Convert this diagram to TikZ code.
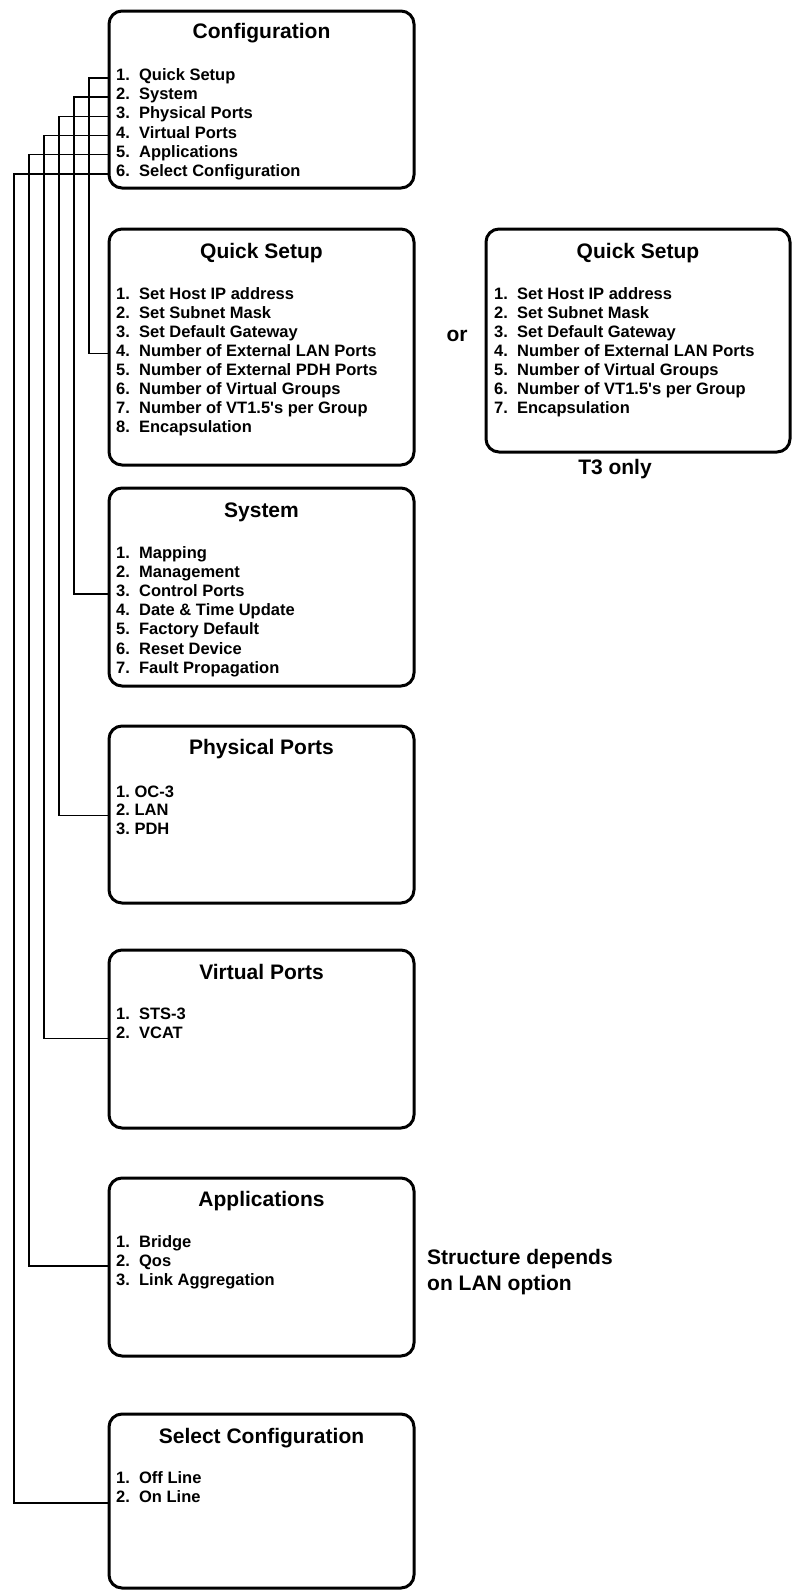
\documentclass[tikz,border=0pt]{standalone}
\usepackage{fontspec}
\setmainfont{Liberation Sans}
\newcommand{\headfont}{\fontsize{21}{26}\selectfont\bfseries}
\newcommand{\listfont}{\fontsize{16.5}{19}\selectfont\bfseries}

\begin{document}
\begin{tikzpicture}[x=1pt,y=-1pt,
    menu/.style={draw, line width=3pt, rounded corners=13pt, anchor=north west,
                 inner sep=0pt, outer sep=0pt, minimum width=305pt},
    head/.style={anchor=base, font=\headfont, inner sep=0pt},
    entry/.style={anchor=base west, font=\listfont, inner sep=0pt},
    wire/.style={line width=1.5pt}]
\useasboundingbox (0,0) rectangle (793,1591);

% top level menu
\node[menu, minimum height=177pt] (cfg) at (109,11) {};
\node[head] at (cfg.north |- 0,38) {Configuration};
\foreach \txt [count=\i] in {{1.\ \ Quick Setup}, {2.\ \ System}, {3.\ \ Physical Ports},
                             {4.\ \ Virtual Ports}, {5.\ \ Applications}, {6.\ \ Select Configuration}}
  \node[entry] (cfg-\i) at (116,{80.5+19.2*(\i-1)}) {\txt};

% quick setup
\node[menu, minimum height=236pt] (qs) at (109,229) {};
\node[head] at (qs.north |- 0,258) {Quick Setup};
\foreach \txt [count=\i] in {{1.\ \ Set Host IP address}, {2.\ \ Set Subnet Mask},
                             {3.\ \ Set Default Gateway}, {4.\ \ Number of External LAN Ports},
                             {5.\ \ Number of External PDH Ports}, {6.\ \ Number of Virtual Groups},
                             {7.\ \ Number of VT1.5\textquotesingle s per Group}, {8.\ \ Encapsulation}}
  \node[entry] (qs-\i) at (116,{299+19.1*(\i-1)}) {\txt};

% quick setup, T3 variant
\node[head] (or) at (457,341) {or};
\node[menu, minimum width=304pt, minimum height=223pt] (qst) at (486,229) {};
\node[head] at (qst.north |- 0,258) {Quick Setup};
\foreach \txt [count=\i] in {{1.\ \ Set Host IP address}, {2.\ \ Set Subnet Mask},
                             {3.\ \ Set Default Gateway}, {4.\ \ Number of External LAN Ports},
                             {5.\ \ Number of Virtual Groups}, {6.\ \ Number of VT1.5\textquotesingle s per Group},
                             {7.\ \ Encapsulation}}
  \node[entry] (qst-\i) at (494,{299+19.1*(\i-1)}) {\txt};
\node[head] (t3) at (615,474) {T3 only};

% system
\node[menu, minimum height=198pt] (sys) at (109,488) {};
\node[head] at (sys.north |- 0,517) {System};
\foreach \txt [count=\i] in {{1.\ \ Mapping}, {2.\ \ Management}, {3.\ \ Control Ports},
                             {4.\ \ Date \& Time Update}, {5.\ \ Factory Default},
                             {6.\ \ Reset Device}, {7.\ \ Fault Propagation}}
  \node[entry] (sys-\i) at (116,{558+19.2*(\i-1)}) {\txt};

% physical ports
\node[menu, minimum height=177pt] (phy) at (109,726) {};
\node[head] at (phy.north |- 0,754) {Physical Ports};
\foreach \txt [count=\i] in {{1.\ OC-3}, {2.\ LAN}, {3.\ PDH}}
  \node[entry] (phy-\i) at (116,{797+18.5*(\i-1)}) {\txt};

% virtual ports
\node[menu, minimum height=178pt] (vir) at (109,950) {};
\node[head] at (vir.north |- 0,979) {Virtual Ports};
\foreach \txt [count=\i] in {{1.\ \ STS-3}, {2.\ \ VCAT}}
  \node[entry] (vir-\i) at (116,{1019+19.5*(\i-1)}) {\txt};

% applications
\node[menu, minimum height=178pt] (app) at (109,1178) {};
\node[head] at (app.north |- 0,1206) {Applications};
\foreach \txt [count=\i] in {{1.\ \ Bridge}, {2.\ \ Qos}, {3.\ \ Link Aggregation}}
  \node[entry] (app-\i) at (116,{1247+19.2*(\i-1)}) {\txt};
\node[font=\headfont, align=left, anchor=north west, inner sep=0pt] (lan) at (427,1249)
  {Structure depends\\on LAN option};

% select configuration
\node[menu, minimum height=174pt] (sel) at (109,1414) {};
\node[head] at (sel.north |- 0,1443) {Select Configuration};
\foreach \txt [count=\i] in {{1.\ \ Off Line}, {2.\ \ On Line}}
  \node[entry] (sel-\i) at (116,{1483+19.8*(\i-1)}) {\txt};

% links from the top menu down to each submenu
\foreach \i/\tgt/\a/\d in {1/qs/qs-4.mid west/20, 2/sys/sys-3.mid west/35,
                          3/phy/phy-2.base west/50, 4/vir/vir-2.base west/65,
                          5/app/app-2.base west/80, 6/sel/sel-2.base west/95}
  \draw[wire] (cfg.west |- cfg-\i.mid west) -- ++(-\d,0) |- (\tgt.west |- \a);
\end{tikzpicture}
\end{document}
